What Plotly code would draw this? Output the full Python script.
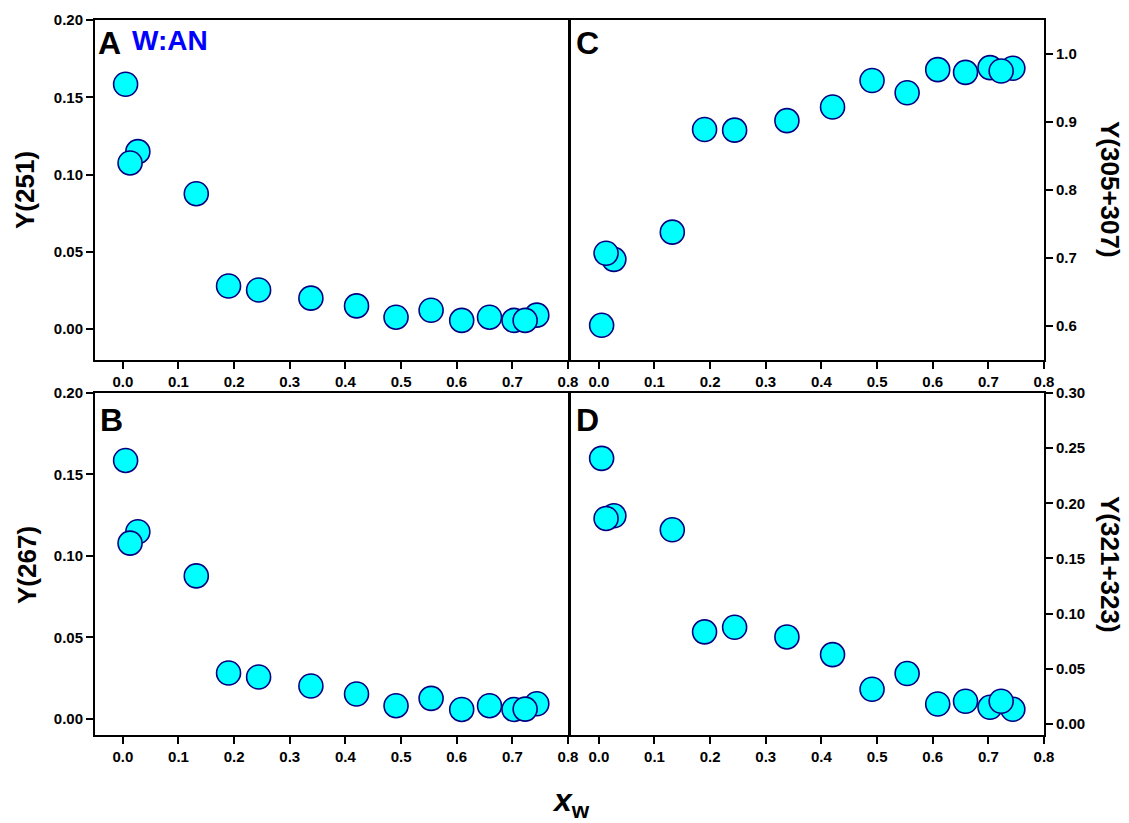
import plotly.graph_objects as go

# Water mole fraction (drawing order keeps overlapping points layered)
x_w = [0.005, 0.027, 0.013, 0.132, 0.190, 0.244, 0.338, 0.420,
       0.491, 0.554, 0.609, 0.659, 0.703, 0.744, 0.723]

y_251 = [0.1584, 0.1148, 0.1075, 0.0876, 0.0279, 0.0253, 0.0200, 0.0150,
         0.0077, 0.0122, 0.0056, 0.0077, 0.0056, 0.0090, 0.0056]
y_267 = [0.1586, 0.1148, 0.1078, 0.0877, 0.0281, 0.0256, 0.0201, 0.0152,
         0.0080, 0.0125, 0.0057, 0.0080, 0.0057, 0.0092, 0.0059]
y_305_307 = [0.601, 0.698, 0.707, 0.738, 0.889, 0.888, 0.902, 0.922,
             0.961, 0.943, 0.977, 0.973, 0.980, 0.979, 0.975]
y_321_323 = [0.2408, 0.1887, 0.1863, 0.1760, 0.0835, 0.0877, 0.0789, 0.0629,
             0.0315, 0.0457, 0.0181, 0.0206, 0.0151, 0.0133, 0.0206]

FONT = "Liberation Sans, Arial, sans-serif"

fig = go.Figure()

panels = [
    ("x", "y", y_251),
    ("x2", "y2", y_305_307),
    ("x3", "y3", y_267),
    ("x4", "y4", y_321_323),
]
for xa, ya, ys in panels:
    fig.add_trace(go.Scatter(
        x=x_w, y=ys, xaxis=xa, yaxis=ya, mode="markers",
        marker=dict(size=24, color="#00FFFF",
                    line=dict(color="#000080", width=1.6)),
        showlegend=False, hoverinfo="x+y",
    ))

tick_font = dict(family=FONT, size=15, color="black", weight="bold")
common_x = dict(range=[-0.05, 0.8], dtick=0.1, tick0=0, tickformat=".1f",
                ticks="outside", ticklen=7, tickwidth=2, tickcolor="black",
                showline=True, linecolor="black", linewidth=2, mirror=True,
                showgrid=False, zeroline=False, tickfont=tick_font)
common_y = dict(ticks="outside", ticklen=7, tickwidth=2, tickcolor="black",
                showline=True, linecolor="black", linewidth=2, mirror=True,
                showgrid=False, zeroline=False, tickfont=tick_font)

left_dom = [0.0, 0.4984]
right_dom = [0.5016, 1.0]
top_dom = [0.5245, 1.0]
bot_dom = [0.0, 0.4783]

fig.update_layout(
    width=1129, height=823,
    margin=dict(l=95, r=85, t=20, b=88),
    paper_bgcolor="white", plot_bgcolor="white",
    font=dict(family=FONT, color="black"),
    xaxis=dict(domain=left_dom, anchor="y", **common_x),
    yaxis=dict(domain=top_dom, anchor="x", range=[-0.02, 0.20], dtick=0.05,
               tick0=0, tickformat=".2f", side="left", **common_y),
    xaxis2=dict(domain=right_dom, anchor="y2", **common_x),
    yaxis2=dict(domain=top_dom, anchor="x2", range=[0.55, 1.05], dtick=0.1,
                tick0=0, tickformat=".1f", side="right", **common_y),
    xaxis3=dict(domain=left_dom, anchor="y3", **common_x),
    yaxis3=dict(domain=bot_dom, anchor="x3", range=[-0.01, 0.20], dtick=0.05,
                tick0=0, tickformat=".2f", side="left", **common_y),
    xaxis4=dict(domain=right_dom, anchor="y4", **common_x),
    yaxis4=dict(domain=bot_dom, anchor="x4", range=[-0.01, 0.30], dtick=0.05,
                tick0=0, tickformat=".2f", side="right", **common_y),
)

letter_font = dict(family=FONT, size=32, color="black")
annotations = [
    dict(text="<b>A</b>", xref="x domain", yref="y domain", x=0.003, y=0.99,
         xanchor="left", yanchor="top", showarrow=False, font=letter_font),
    dict(text="<b>W:AN</b>", xref="x domain", yref="y domain", x=0.075, y=0.99,
         xanchor="left", yanchor="top", showarrow=False,
         font=dict(family=FONT, size=28, color="#0000FF")),
    dict(text="<b>C</b>", xref="x2 domain", yref="y2 domain", x=0.006, y=0.99,
         xanchor="left", yanchor="top", showarrow=False, font=letter_font),
    dict(text="<b>B</b>", xref="x3 domain", yref="y3 domain", x=0.006, y=0.98,
         xanchor="left", yanchor="top", showarrow=False, font=letter_font),
    dict(text="<b>D</b>", xref="x4 domain", yref="y4 domain", x=0.006, y=0.98,
         xanchor="left", yanchor="top", showarrow=False, font=letter_font),
]

title_font = dict(family=FONT, size=26, color="black")
annotations += [
    dict(text="<b>Y(251)</b>", xref="paper", yref="paper",
         x=(25 - 95) / 949, y=(735 - 190) / 715, textangle=-90,
         xanchor="center", yanchor="middle", showarrow=False, font=title_font),
    dict(text="<b>Y(267)</b>", xref="paper", yref="paper",
         x=(27 - 95) / 949, y=(735 - 565) / 715, textangle=-90,
         xanchor="center", yanchor="middle", showarrow=False, font=title_font),
    dict(text="<b>Y(305+307)</b>", xref="paper", yref="paper",
         x=(1110 - 95) / 949, y=(735 - 189) / 715, textangle=90,
         xanchor="center", yanchor="middle", showarrow=False, font=title_font),
    dict(text="<b>Y(321+323)</b>", xref="paper", yref="paper",
         x=(1110 - 95) / 949, y=(735 - 564) / 715, textangle=90,
         xanchor="center", yanchor="middle", showarrow=False, font=title_font),
    dict(text="<b><i>x</i></b><sub><b>w</b></sub>", xref="paper", yref="paper",
         x=(571 - 95) / 949, y=(735 - 802) / 715,
         xanchor="center", yanchor="middle", showarrow=False,
         font=dict(family=FONT, size=32, color="black")),
]
fig.update_layout(annotations=annotations)

fig.write_html("out.html")
